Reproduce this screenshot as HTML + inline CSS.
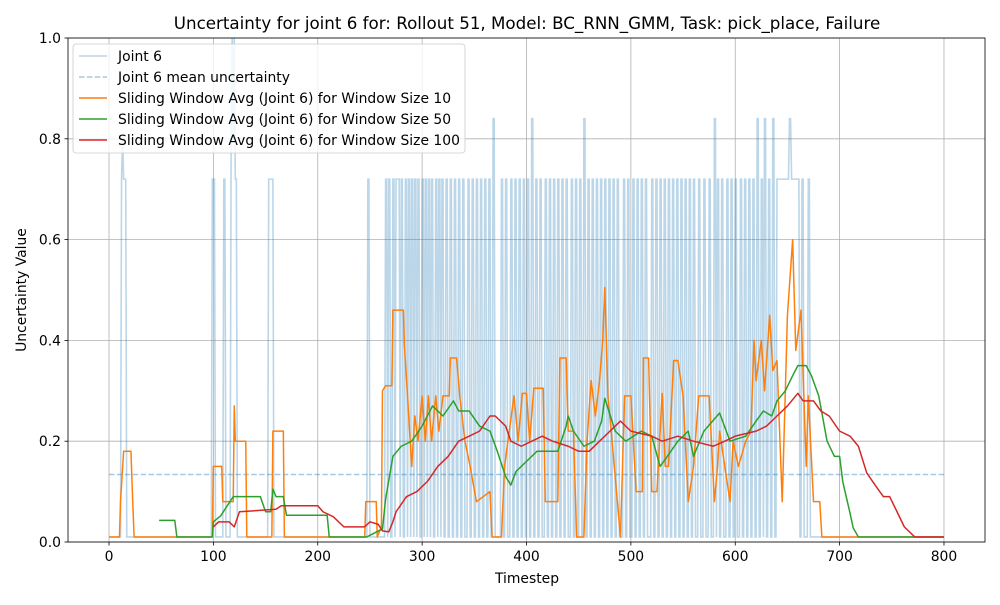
<!DOCTYPE html>
<html><head><meta charset="utf-8"><style>
body{margin:0;background:#fff;font-family:"Liberation Sans","DejaVu Sans",sans-serif}
svg text{font-family:"DejaVu Sans","Liberation Sans",sans-serif}
</style></head><body>
<svg id="chart" width="1000" height="600" xmlns="http://www.w3.org/2000/svg"></svg>
<script>
const xTicks=[0,100,200,300,400,500,600,700,800];
const yTicks=[0,0.2,0.4,0.6,0.8,1.0];
const yTickLabels=["0.0","0.2","0.4","0.6","0.8","1.0"];
const meanValue=0.134;
const spikeTimes=[12,13,14,15,99,100,110,117,118,119,120,121,153,154,156,248,265,268,272,275,277,280,284,287,290,293,296,300,303,306,309,313,316,319,323,327,331,335,339,344,348,352,356,360,364,368,376,380,385,389,393,397,401,405,409,413,418,422,426,430,434,438,443,447,451,455,459,463,467,471,475,479,483,487,493,497,502,506,510,514,520,524,528,532,536,540,544,548,552,556,560,565,570,575,580,583,587,592,596,600,605,609,613,617,621,625,628,632,636,640,642,644,646,648,650,652,654,656,658,660,664,670];
const spikeValues=[0.72,0.8,0.72,0.72,0.72,0.72,0.72,0.8,1.0,0.8,1.0,0.72,0.72,0.72,0.72,0.72,0.72,0.72,0.72,0.72,0.72,0.72,0.72,0.72,0.72,0.72,0.72,0.72,0.72,0.72,0.72,0.72,0.72,0.72,0.72,0.72,0.72,0.72,0.72,0.72,0.72,0.72,0.72,0.72,0.72,0.84,0.72,0.72,0.72,0.72,0.72,0.72,0.72,0.84,0.72,0.72,0.72,0.72,0.72,0.72,0.72,0.72,0.72,0.72,0.72,0.84,0.72,0.72,0.72,0.72,0.72,0.72,0.72,0.72,0.72,0.72,0.72,0.72,0.72,0.72,0.72,0.72,0.72,0.72,0.72,0.72,0.72,0.72,0.72,0.72,0.72,0.72,0.72,0.72,0.84,0.72,0.72,0.72,0.72,0.72,0.72,0.72,0.72,0.72,0.84,0.72,0.84,0.72,0.84,0.72,0.72,0.72,0.72,0.72,0.72,0.84,0.72,0.72,0.72,0.72,0.72,0.72];
const w10T=[0,10,11,14,21,22,24,99,100,108,109,119,120,121,131,132,156,157,167,168,245,246,256,257,261,262,265,271,272,282,283,286,290,293,296,300,303,306,309,313,316,320,326,327,333,336,341,346,352,365,367,376,379,388,392,396,400,403,407,416,418,430,432,438,440,445,448,455,458,462,466,470,473,475,478,482,490,494,500,505,511,512,517,520,525,530,533,536,541,545,550,555,560,565,575,580,583,585,590,595,598,603,610,615,618,620,625,628,633,636,640,645,648,650,655,658,663,668,670,675,681,683,800];
const w10V=[0.01,0.01,0.08,0.18,0.18,0.12,0.01,0.01,0.15,0.15,0.08,0.08,0.27,0.2,0.2,0.01,0.01,0.22,0.22,0.01,0.01,0.08,0.08,0.01,0.03,0.3,0.31,0.31,0.46,0.46,0.39,0.29,0.15,0.25,0.2,0.29,0.2,0.29,0.2,0.29,0.22,0.29,0.29,0.365,0.365,0.29,0.2,0.15,0.08,0.1,0.01,0.01,0.15,0.29,0.2,0.295,0.295,0.2,0.305,0.305,0.08,0.08,0.365,0.365,0.22,0.22,0.01,0.01,0.2,0.32,0.25,0.32,0.4,0.505,0.29,0.2,0.01,0.29,0.29,0.1,0.1,0.365,0.365,0.1,0.1,0.295,0.15,0.15,0.36,0.36,0.29,0.08,0.15,0.29,0.29,0.08,0.15,0.22,0.15,0.08,0.2,0.15,0.2,0.22,0.4,0.32,0.4,0.3,0.45,0.34,0.36,0.08,0.3,0.45,0.6,0.38,0.46,0.15,0.29,0.08,0.08,0.01,0.01];
const w50T=[48,63,65,99,100,107,119,145,150,155,157,160,167,170,209,211,247,262,265,272,280,290,300,310,320,330,335,345,355,365,372,380,385,390,400,410,430,438,440,445,455,465,472,475,485,495,510,520,528,535,545,555,560,570,585,595,610,620,627,635,640,648,655,660,668,673,680,688,695,700,703,710,713,718,800];
const w50V=[0.043,0.043,0.01,0.01,0.04,0.052,0.09,0.09,0.06,0.06,0.105,0.09,0.09,0.053,0.053,0.01,0.01,0.026,0.085,0.17,0.19,0.2,0.23,0.27,0.25,0.28,0.26,0.26,0.23,0.22,0.18,0.13,0.113,0.14,0.16,0.18,0.18,0.23,0.25,0.22,0.19,0.2,0.24,0.285,0.22,0.2,0.22,0.21,0.15,0.17,0.2,0.22,0.17,0.22,0.256,0.2,0.21,0.24,0.26,0.25,0.28,0.3,0.33,0.35,0.35,0.33,0.29,0.2,0.17,0.17,0.12,0.057,0.028,0.01,0.01];
const w100T=[100,105,115,120,125,160,165,200,205,215,225,245,250,258,262,268,272,275,285,295,305,315,325,335,345,355,365,370,380,385,395,405,415,425,440,450,460,470,480,490,500,520,530,545,560,579,590,600,620,630,640,650,660,665,675,682,690,700,710,718,726,735,742,748,755,762,772,800];
const w100V=[0.03,0.04,0.04,0.03,0.06,0.065,0.072,0.072,0.06,0.05,0.03,0.03,0.04,0.035,0.022,0.02,0.04,0.06,0.09,0.1,0.12,0.15,0.17,0.2,0.21,0.22,0.25,0.25,0.23,0.2,0.19,0.2,0.21,0.2,0.19,0.18,0.18,0.2,0.22,0.24,0.22,0.21,0.2,0.21,0.2,0.19,0.2,0.21,0.22,0.23,0.25,0.27,0.295,0.28,0.28,0.26,0.25,0.22,0.21,0.19,0.137,0.11,0.09,0.09,0.06,0.03,0.01,0.01];

const NS="http://www.w3.org/2000/svg";
const svg=document.getElementById('chart');
const L=68,R=985,T=38,B=542,XMIN=-39.3,XMAX=839.3;
function xs(t){return L+(t-XMIN)/(XMAX-XMIN)*(R-L);}
function ys(v){return B-v*(B-T);}
function mk(tag,attrs,parent){const e=document.createElementNS(NS,tag);for(const k in attrs)e.setAttribute(k,attrs[k]);(parent||svg).appendChild(e);return e;}

xTicks.forEach(t=>{const g=mk('line',{x1:xs(t),x2:xs(t),y1:T,y2:B,stroke:'#b0b0b0','stroke-width':0.8});

});
yTicks.forEach(v=>{const g=mk('line',{x1:L,x2:R,y1:ys(v),y2:ys(v),stroke:'#b0b0b0','stroke-width':0.8});

});

const clip=mk('clipPath',{id:'pc'});mk('rect',{x:L,y:T,width:R-L,height:B-T},clip);
const plot=mk('g',{'clip-path':'url(#pc)'});



const raw=[];for(let t=0;t<=800;t++)raw.push(0.01);
spikeTimes.forEach((t,i)=>{raw[t]=spikeValues[i];if(raw[t+1]<spikeValues[i]&&spikeTimes.indexOf(t+1)<0)raw[t+1]=spikeValues[i];});
let d='';raw.forEach((v,t)=>{d+=(t?'L':'M')+xs(t).toFixed(2)+','+ys(v).toFixed(2);});
const rawLine=mk('path',{d:d,fill:'none',stroke:'#1f77b4','stroke-opacity':0.3,'stroke-width':1.6},plot);



const mean=mk('line',{x1:xs(0),x2:xs(800),y1:ys(meanValue),y2:ys(meanValue),stroke:'#1f77b4','stroke-opacity':0.4,'stroke-width':1.5,'stroke-dasharray':'5.5,2.4'},plot);



function series(T_,V_,color,name){let p='';T_.forEach((t,i)=>{p+=(i?'L':'M')+xs(t).toFixed(2)+','+ys(V_[i]).toFixed(2);});
const e=mk('path',{d:p,fill:'none',stroke:color,'stroke-width':1.5,'stroke-linejoin':'round'},plot);

}
series(w10T,w10V,'#ff7f0e','window-10-line');
series(w50T,w50V,'#2ca02c','window-50-line');
series(w100T,w100V,'#d62728','window-100-line');

const fr=mk('rect',{x:L,y:T,width:R-L,height:B-T,fill:'none',stroke:'#000','stroke-width':0.8});



xTicks.forEach(t=>{mk('line',{x1:xs(t),x2:xs(t),y1:B,y2:B+3.5,stroke:'#000','stroke-width':0.8});
const tx=mk('text',{x:xs(t),y:B+19,'font-size':13.9,'text-anchor':'middle',fill:'#000'});tx.textContent=t;

});
yTicks.forEach((v,i)=>{mk('line',{x1:L-3.5,x2:L,y1:ys(v),y2:ys(v),stroke:'#000','stroke-width':0.8});
const tx=mk('text',{x:L-7,y:ys(v)+5,'font-size':13.9,'text-anchor':'end',fill:'#000'});tx.textContent=yTickLabels[i];

});

const title=mk('text',{x:527,y:29,'font-size':16.7,'text-anchor':'middle',fill:'#000'});
title.textContent='Uncertainty for joint 6 for: Rollout 51, Model: BC_RNN_GMM, Task: pick_place, Failure';


const xl=mk('text',{x:527,y:583,'font-size':13.9,'text-anchor':'middle',fill:'#000'});xl.textContent='Timestep';


const yl=mk('text',{x:26,y:290,'font-size':13.9,'text-anchor':'middle',fill:'#000',transform:'rotate(-90 26 290)'});yl.textContent='Uncertainty Value';



const lg=mk('g',{});


mk('rect',{x:73,y:44,width:392,height:109,rx:3,fill:'#fff','fill-opacity':0.8,stroke:'#ccc','stroke-width':0.8},lg);
const entries=[['Joint 6','#1f77b4',0.3,''],['Joint 6 mean uncertainty','#1f77b4',0.4,'5.5,2.4'],['Sliding Window Avg (Joint 6) for Window Size 10','#ff7f0e',1,''],['Sliding Window Avg (Joint 6) for Window Size 50','#2ca02c',1,''],['Sliding Window Avg (Joint 6) for Window Size 100','#d62728',1,'']];
entries.forEach((e,i)=>{const y=56+i*21;
const g=mk('g',{},lg);


const a={x1:79,x2:107,y1:y,y2:y,stroke:e[1],'stroke-opacity':e[2],'stroke-width':1.5};if(e[3])a['stroke-dasharray']=e[3];
mk('line',a,g);
const t=mk('text',{x:118,y:y+5,'font-size':13.9,fill:'#000'},g);t.textContent=e[0];});
</script>
</body></html>
